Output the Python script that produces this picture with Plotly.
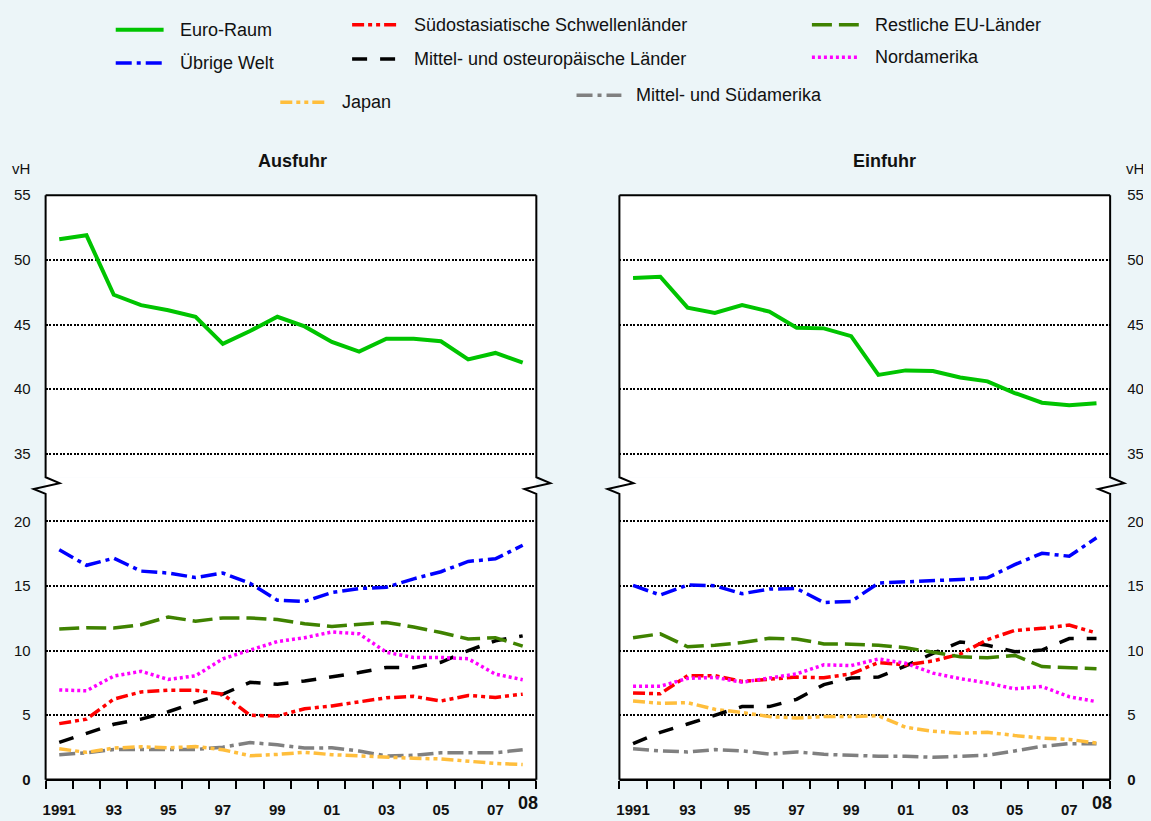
import plotly.graph_objects as go

W, H = 1151, 821
OFF = 8  # page (body) margin of the html page, compensated in all positions
FONT = "Liberation Sans, Arial, sans-serif"
BG = "#ECF5F8"

years = list(range(1991, 2009))
label_years = [1991, 1993, 1995, 1997, 1999, 2001, 2003, 2005, 2007]
label_text = ["1991", "93", "95", "97", "99", "01", "03", "05", "07"]

# ---- Ausfuhr (exports), vH ----
ex_euro = [51.6, 51.9, 47.3, 46.5, 46.1, 45.6, 43.5, 44.5, 45.6, 44.85, 43.65, 42.9, 43.9, 43.9, 43.7, 42.3, 42.8, 42.05]
ex_welt = [17.8, 16.6, 17.15, 16.15, 16.0, 15.65, 16.0, 15.2, 13.9, 13.8, 14.5, 14.8, 14.9, 15.55, 16.1, 16.9, 17.1, 18.15]
ex_eu = [11.67, 11.77, 11.75, 12.0, 12.6, 12.28, 12.53, 12.53, 12.4, 12.08, 11.87, 12.0, 12.18, 11.82, 11.4, 10.9, 11.0, 10.35]
ex_nam = [6.96, 6.89, 8.03, 8.4, 7.77, 8.05, 9.37, 10.0, 10.7, 11.0, 11.44, 11.3, 9.87, 9.47, 9.47, 9.37, 8.18, 7.75]
ex_soa = [4.35, 4.7, 6.25, 6.8, 6.94, 6.94, 6.63, 5.0, 4.94, 5.5, 5.72, 6.05, 6.35, 6.46, 6.1, 6.53, 6.38, 6.63]
ex_moe = [2.9, 3.6, 4.3, 4.7, 5.27, 6.0, 6.63, 7.55, 7.4, 7.65, 7.97, 8.3, 8.7, 8.68, 9.1, 10.0, 10.76, 11.14]
ex_jap = [2.4, 2.13, 2.46, 2.56, 2.48, 2.58, 2.33, 1.87, 1.97, 2.13, 1.95, 1.85, 1.77, 1.67, 1.62, 1.47, 1.27, 1.19]
ex_sam = [1.95, 2.1, 2.35, 2.35, 2.4, 2.35, 2.53, 2.89, 2.71, 2.46, 2.48, 2.23, 1.85, 1.9, 2.1, 2.13, 2.1, 2.33]

# ---- Einfuhr (imports), vH ----
im_euro = [48.6, 48.7, 46.3, 45.9, 46.5, 46.0, 44.75, 44.7, 44.1, 41.1, 41.45, 41.4, 40.9, 40.6, 39.7, 38.95, 38.75, 38.9]
im_welt = [15.04, 14.3, 15.07, 15.02, 14.4, 14.76, 14.8, 13.72, 13.8, 15.22, 15.32, 15.4, 15.5, 15.63, 16.65, 17.53, 17.3, 18.73]
im_eu = [11.0, 11.3, 10.3, 10.42, 10.62, 10.95, 10.9, 10.52, 10.5, 10.42, 10.22, 9.89, 9.53, 9.45, 9.63, 8.77, 8.69, 8.59]
im_nam = [7.24, 7.24, 7.85, 7.93, 7.55, 7.85, 8.2, 8.9, 8.84, 9.35, 9.02, 8.26, 7.83, 7.5, 7.04, 7.22, 6.43, 6.05]
im_soa = [6.73, 6.66, 8.06, 8.06, 7.62, 7.8, 7.95, 7.9, 8.2, 9.07, 8.9, 9.2, 9.73, 10.85, 11.56, 11.72, 11.97, 11.36]
im_moe = [2.8, 3.68, 4.32, 4.96, 5.67, 5.67, 6.23, 7.37, 7.88, 7.95, 8.82, 9.78, 10.67, 10.42, 9.91, 10.04, 10.93, 10.93]
im_jap = [6.1, 5.92, 5.97, 5.46, 5.21, 4.9, 4.78, 4.9, 4.9, 4.96, 4.07, 3.76, 3.61, 3.68, 3.43, 3.23, 3.13, 2.85]
im_sam = [2.41, 2.24, 2.16, 2.34, 2.24, 2.0, 2.16, 1.98, 1.9, 1.83, 1.83, 1.75, 1.83, 1.9, 2.24, 2.59, 2.8, 2.8]

names = {
    "euro": "Euro-Raum",
    "welt": "Übrige Welt",
    "jap": "Japan",
    "soa": "Südostasiatische Schwellenländer",
    "moe": "Mittel- und osteuropäische Länder",
    "sam": "Mittel- und Südamerika",
    "eu": "Restliche EU-Länder",
    "nam": "Nordamerika",
}
styles = {
    "euro": dict(color="#00C400", dash="solid", width=4),
    "welt": dict(color="#0000FF", dash="16px,5px,4px,5px", width=3.5),
    "jap": dict(color="#FFBE3C", dash="12px,4px,4px,4px,4px,4px", width=3.5),
    "soa": dict(color="#FF0000", dash="12px,4px,4px,4px,4px,4px", width=3.5),
    "moe": dict(color="#000000", dash="15px,13px", width=3.5),
    "sam": dict(color="#808080", dash="16px,5px,4px,5px", width=3.5),
    "eu": dict(color="#3F8200", dash="20px,7px", width=3.5),
    "nam": dict(color="#FF00FF", dash="3px,3px", width=3.5),
}
export_data = {"euro": ex_euro, "welt": ex_welt, "eu": ex_eu, "nam": ex_nam,
               "soa": ex_soa, "moe": ex_moe, "jap": ex_jap, "sam": ex_sam}
import_data = {"euro": im_euro, "welt": im_welt, "eu": im_eu, "nam": im_nam,
               "soa": im_soa, "moe": im_moe, "jap": im_jap, "sam": im_sam}
draw_order = ["sam", "jap", "moe", "soa", "nam", "eu", "welt", "euro"]


def px(x):
    """screen pixel x -> paper fraction"""
    return (x - OFF) / W


def py(y):
    """screen pixel y -> paper fraction"""
    return 1 - (y - OFF) / H


# panel geometry (screen pixels)
TOP, UPPER_BOT, LOWER_TOP, BOT = 190, 478, 495, 787
PPU = 13.2  # pixels per unit
panels = [(42.7, 534.7), (618.0, 1110.0)]

fig = go.Figure()

axis_ids = [("x", "y", "x2", "y2"), ("x3", "y3", "x4", "y4")]
for (xl, xu, xl2, yu), data in zip(axis_ids, [export_data, import_data]):
    for key in draw_order:
        st = styles[key]
        upper = key == "euro"
        fig.add_trace(go.Scatter(
            x=years, y=data[key], mode="lines", name=names[key], showlegend=False,
            line=dict(color=st["color"], dash=st["dash"], width=st["width"]),
            xaxis=(xl2 if upper else xl), yaxis=(yu if upper else xu),
            hoverinfo="skip",
        ))

tickfont_y = dict(family=FONT, size=15, color="#111111")
tickfont_x = dict(family=FONT, size=15, color="#111111", weight="bold")
minor_ticks = dict(tickmode="array", tickvals=[1990.5 + i for i in range(19)],
                   ticks="outside", ticklen=8, tickwidth=1.5, tickcolor="black", showgrid=False)

layout_axes = {}
for i, (x0, x1) in enumerate(panels):
    dom_x = [px(x0), px(x1)]
    n_low = 2 * i + 1
    n_up = 2 * i + 2
    sfx_low = "" if n_low == 1 else str(n_low)
    sfx_up = str(n_up)
    side = "left" if i == 0 else "right"
    layout_axes["xaxis" + sfx_low] = dict(
        domain=dom_x, range=[1990.5, 2008.5], anchor="y" + sfx_low,
        showgrid=False, zeroline=False, showline=False,
        tickmode="array", tickvals=label_years, ticktext=label_text,
        ticks="outside", ticklen=16, tickcolor="rgba(0,0,0,0)",
        tickfont=tickfont_x, minor=minor_ticks, fixedrange=True,
    )
    layout_axes["yaxis" + sfx_low] = dict(
        domain=[py(BOT), py(LOWER_TOP)], range=[0, (BOT - LOWER_TOP) / PPU],
        anchor="x" + sfx_low, side=side,
        tickmode="array", tickvals=[0, 5, 10, 15, 20], ticktext=["<b>0</b>", "5", "10", "15", "20"],
        ticks="outside", ticklen=11 if i == 0 else 13, tickcolor="rgba(0,0,0,0)",
        tickfont=tickfont_y, showgrid=True, gridcolor="black", gridwidth=1.5, griddash="2px,1.5px",
        zeroline=False, showline=False, fixedrange=True,
    )
    layout_axes["xaxis" + sfx_up] = dict(
        domain=dom_x, range=[1990.5, 2008.5], anchor="y" + sfx_up, visible=False,
        showgrid=False, zeroline=False, fixedrange=True,
    )
    layout_axes["yaxis" + sfx_up] = dict(
        domain=[py(UPPER_BOT), py(TOP)], range=[55 - (UPPER_BOT - TOP) / PPU, 55],
        anchor="x" + sfx_up, side=side,
        tickmode="array", tickvals=[35, 40, 45, 50, 55],
        ticks="outside", ticklen=11 if i == 0 else 13, tickcolor="rgba(0,0,0,0)",
        tickfont=tickfont_y, showgrid=True, gridcolor="black", gridwidth=1.5, griddash="2px,1.5px",
        zeroline=False, showline=False, fixedrange=True,
    )

shapes = []
for (x0, x1) in panels:
    shapes.append(dict(type="rect", xref="paper", yref="paper", x0=px(x0), x1=px(x1),
                       y0=py(LOWER_TOP), y1=py(UPPER_BOT), fillcolor="white",
                       line=dict(width=0), layer="below"))
    shapes.append(dict(type="line", xref="paper", yref="paper", x0=px(x0), x1=px(x1),
                       y0=py(TOP), y1=py(TOP), line=dict(color="black", width=2)))
    shapes.append(dict(type="line", xref="paper", yref="paper", x0=px(x0), x1=px(x1),
                       y0=py(BOT), y1=py(BOT), line=dict(color="black", width=2.5)))
    for xb in (x0, x1):
        pts = [(xb, TOP), (xb, UPPER_BOT), (xb + 14, 484), (xb - 12, 490), (xb, LOWER_TOP), (xb, BOT)]
        path = "M " + " L ".join(f"{px(a):.5f},{py(b):.5f}" for a, b in pts)
        shapes.append(dict(type="path", xref="paper", yref="paper", path=path,
                           line=dict(color="black", width=2)))

annotations = []
annotations.append(dict(text="<b>Ausfuhr</b>", x=px(290), y=py(155), xref="paper", yref="paper",
                        showarrow=False, xanchor="center", yanchor="middle",
                        font=dict(family=FONT, size=18, color="#111111")))
annotations.append(dict(text="<b>Einfuhr</b>", x=px(884), y=py(155), xref="paper", yref="paper",
                        showarrow=False, xanchor="center", yanchor="middle",
                        font=dict(family=FONT, size=18, color="#111111")))
annotations.append(dict(text="vH", x=px(18), y=py(163), xref="paper", yref="paper",
                        showarrow=False, xanchor="center", yanchor="middle",
                        font=dict(family=FONT, size=15, color="#111111")))
annotations.append(dict(text="vH", x=px(1124), y=py(163), xref="paper", yref="paper",
                        showarrow=False, xanchor="left", yanchor="middle",
                        font=dict(family=FONT, size=15, color="#111111")))
for xref in ("x", "x3"):
    annotations.append(dict(text="<b>08</b>", x=2008, y=py(811), xref=xref, yref="paper",
                            xshift=5, showarrow=False, xanchor="center", yanchor="middle",
                            font=dict(family=FONT, size=18, color="#111111")))

legend_pos = {
    "euro": (113, 161, 21, 175),
    "welt": (113, 161, 55, 175),
    "jap": (278, 323, 95, 338),
    "soa": (350, 396, 16, 410),
    "moe": (350, 396, 51, 410),
    "sam": (575, 620, 88, 633),
    "eu": (811, 858, 16, 872),
    "nam": (811, 858, 49, 872),
}
for key, (lx0, lx1, ly, tx) in legend_pos.items():
    st = styles[key]
    shapes.append(dict(type="line", xref="paper", yref="paper", x0=px(lx0), x1=px(lx1),
                       y0=py(ly), y1=py(ly),
                       line=dict(color=st["color"], width=st["width"], dash=st["dash"])))
    annotations.append(dict(text=names[key], x=px(tx), y=py(ly), xref="paper", yref="paper",
                            showarrow=False, xanchor="left", yanchor="middle",
                            font=dict(family=FONT, size=18, color="#111111")))

fig.update_layout(
    width=W, height=H,
    margin=dict(l=0, r=0, t=0, b=0),
    paper_bgcolor=BG,
    plot_bgcolor="white",
    showlegend=False,
    shapes=shapes,
    annotations=annotations,
    font=dict(family=FONT, color="#111111"),
    **layout_axes,
)

post = (
    f"document.documentElement.style.background='{BG}';"
    f"document.body.style.background='{BG}';"
)
fig.write_html("out.html", post_script=post)
